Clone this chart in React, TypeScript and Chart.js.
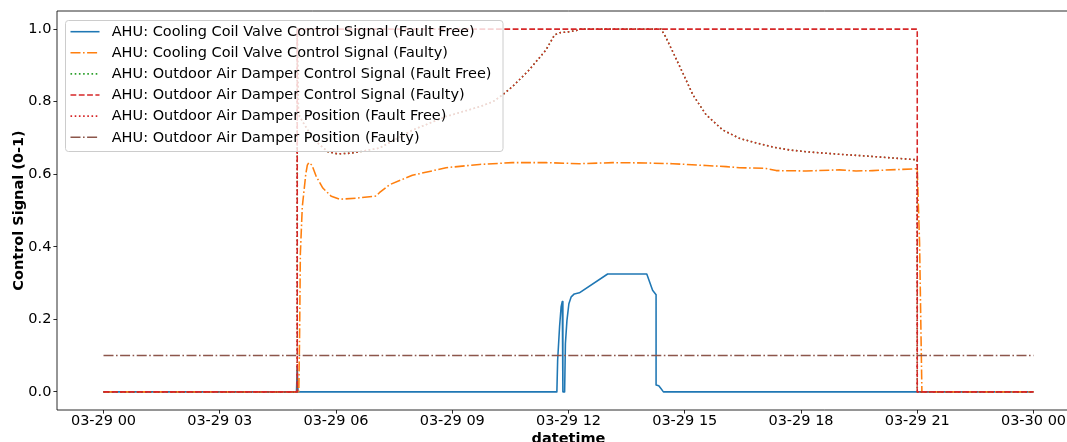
import { useEffect, useRef } from 'react';
import { Chart, registerables } from 'chart.js';

Chart.register(...registerables);

// ---------- data (hours since 03-29 00:00) ----------
const seriesLabels = [
  'AHU: Cooling Coil Valve Control Signal (Fault Free)',
  'AHU: Cooling Coil Valve Control Signal (Faulty)',
  'AHU: Outdoor Air Damper Control Signal (Fault Free)',
  'AHU: Outdoor Air Damper Control Signal (Faulty)',
  'AHU: Outdoor Air Damper Position (Fault Free)',
  'AHU: Outdoor Air Damper Position (Faulty)',
];

const coolingFaultFreeHours = [0, 4.98, 5.0, 5.02, 11.7, 11.72, 11.77, 11.81, 11.84, 11.855, 11.9, 11.92, 11.96, 12.01, 12.07, 12.15, 12.28, 13.01, 14.02, 14.17, 14.26, 14.26, 14.33, 14.38, 14.45, 24];
const coolingFaultFreeValues = [0, 0, 0.07, 0, 0, 0.088, 0.18, 0.235, 0.249, 0, 0, 0.133, 0.197, 0.243, 0.262, 0.27, 0.273, 0.325, 0.325, 0.28, 0.268, 0.019, 0.017, 0.01, 0, 0];

const coolingFaultyHours = [0, 5.04, 5.06, 5.08, 5.13, 5.22, 5.26, 5.3, 5.38, 5.49, 5.66, 5.88, 6.09, 6.52, 7.04, 7.12, 7.38, 7.97, 8.84, 9.7, 10.55, 11.43, 12.28, 13.14, 14.0, 14.69, 15.55, 16.07, 16.41, 17.1, 17.36, 18.13, 18.99, 19.42, 19.85, 20.97, 21.0, 21.06, 21.12, 24];
const coolingFaultyValues = [0, 0, 0.15, 0.38, 0.51, 0.6, 0.625, 0.632, 0.625, 0.594, 0.562, 0.539, 0.531, 0.534, 0.54, 0.549, 0.571, 0.597, 0.618, 0.627, 0.632, 0.632, 0.629, 0.632, 0.631, 0.629, 0.624, 0.621, 0.618, 0.616, 0.61, 0.609, 0.612, 0.609, 0.61, 0.615, 0.615, 0.41, 0, 0];

const damperSignalFaultFreeHours = [0, 5.0, 5.0, 5.03, 5.06, 5.27, 5.53, 5.79, 6.05, 6.39, 7.12, 7.98, 8.84, 9.7, 10.05, 10.3, 10.56, 10.99, 11.42, 11.64, 11.77, 12.03, 12.2, 12.28, 14.39, 14.5, 14.69, 14.95, 15.21, 15.55, 15.98, 16.41, 16.85, 17.27, 17.7, 18.13, 18.99, 19.85, 20.97, 21.0, 21.0, 24];
const damperSignalFaultFreeValues = [0, 0, 1.0, 0.78, 0.759, 0.722, 0.686, 0.662, 0.656, 0.658, 0.672, 0.722, 0.759, 0.786, 0.8, 0.819, 0.842, 0.888, 0.943, 0.984, 0.99, 0.993, 0.996, 1.0, 1.0, 0.98, 0.938, 0.879, 0.819, 0.764, 0.722, 0.699, 0.686, 0.675, 0.667, 0.662, 0.655, 0.649, 0.64, 0.64, 0, 0];

const damperSignalFaultyHours = [0, 5.0, 5.0, 21.0, 21.0, 24];
const damperSignalFaultyValues = [0, 0, 1, 1, 0, 0];

const damperPositionFaultFreeHours = [0, 5.0, 5.0, 5.03, 5.06, 5.27, 5.53, 5.79, 6.05, 6.39, 7.12, 7.98, 8.84, 9.7, 10.05, 10.3, 10.56, 10.99, 11.42, 11.64, 11.77, 12.03, 12.2, 12.28, 14.39, 14.5, 14.69, 14.95, 15.21, 15.55, 15.98, 16.41, 16.85, 17.27, 17.7, 18.13, 18.99, 19.85, 20.97, 21.0, 21.0, 24];
const damperPositionFaultFreeValues = [0, 0, 1.0, 0.78, 0.759, 0.722, 0.686, 0.662, 0.656, 0.658, 0.672, 0.722, 0.759, 0.786, 0.8, 0.819, 0.842, 0.888, 0.943, 0.984, 0.99, 0.993, 0.996, 1.0, 1.0, 0.98, 0.938, 0.879, 0.819, 0.764, 0.722, 0.699, 0.686, 0.675, 0.667, 0.662, 0.655, 0.649, 0.64, 0.64, 0, 0];

const damperPositionFaultyHours = [0, 24];
const damperPositionFaultyValues = [0.1, 0.1];

const xTickHours = [0, 3, 6, 9, 12, 15, 18, 21, 24];
const xTickLabels = ['03-29 00', '03-29 03', '03-29 06', '03-29 09', '03-29 12', '03-29 15', '03-29 18', '03-29 21', '03-30 00'];
const yTickValues = [0, 0.2, 0.4, 0.6, 0.8, 1.0];
const yTickLabels = ['0.0', '0.2', '0.4', '0.6', '0.8', '1.0'];

// ---------- styles ----------
const FONT = '"DejaVu Sans", "Liberation Sans", sans-serif';
const LW = 1.56;
const DASHED = [5.8, 2.5];
const DASHDOT = [10, 2.5, 1.6, 2.5];
const DOTTED = [1.6, 2.6];

const zip = (xs: number[], ys: number[]) => xs.map((x, i) => ({ x, y: ys[i] }));

const spinePlugin = {
  id: 'mplSpines',
  afterDatasetsDraw(chart: any) {
    const { ctx, chartArea: a } = chart;
    ctx.save();
    ctx.strokeStyle = '#000';
    ctx.lineWidth = 0.83;
    ctx.setLineDash([]);
    ctx.beginPath();
    ctx.moveTo(a.left, a.bottom);
    ctx.lineTo(a.left, a.top);
    ctx.lineTo(a.right, a.top);
    ctx.moveTo(a.left, a.bottom);
    ctx.lineTo(a.right, a.bottom);
    ctx.stroke();
    ctx.restore();
  },
};

const legendPlugin = {
  id: 'mplLegend',
  afterDraw(chart: any) {
    const ctx = chart.ctx;
    ctx.save();
    ctx.beginPath();
    (ctx as any).roundRect(65.5, 20.5, 437.5, 131, 3);
    ctx.fillStyle = 'rgba(255,255,255,0.8)';
    ctx.fill();
    ctx.strokeStyle = '#cccccc';
    ctx.lineWidth = 1;
    ctx.setLineDash([]);
    ctx.stroke();
    chart.data.datasets.forEach((ds: any, i: number) => {
      const y = 31.7 + i * 21.1;
      ctx.beginPath();
      ctx.setLineDash(ds.borderDash || []);
      ctx.lineCap = 'butt';
      ctx.strokeStyle = ds.borderColor;
      ctx.lineWidth = ds.borderWidth;
      ctx.moveTo(70.5, y);
      ctx.lineTo(99.5, y);
      ctx.stroke();
      ctx.setLineDash([]);
      ctx.fillStyle = '#000';
      ctx.font = `14.5px ${FONT}`;
      ctx.textAlign = 'left';
      ctx.textBaseline = 'middle';
      ctx.fillText(ds.label, 111.7, y + 0.6);
    });
    ctx.restore();
  },
};

export default function App() {
  const ref = useRef<HTMLCanvasElement>(null);

  useEffect(() => {
    if (!ref.current) return;
    const mk = (i: number, xs: number[], ys: number[], color: string, dash: number[]) => ({
      label: seriesLabels[i],
      data: zip(xs, ys),
      borderColor: color,
      backgroundColor: color,
      borderWidth: LW,
      borderDash: dash,
      borderCapStyle: 'butt' as const,
      borderJoinStyle: 'round' as const,
      pointRadius: 0,
      pointHoverRadius: 0,
      tension: 0,
      fill: false,
      order: 6 - i,
    });
    const tickFont = { family: FONT, size: 14.5 };
    const chart = new Chart(ref.current, {
      type: 'line',
      data: {
        datasets: [
          mk(0, coolingFaultFreeHours, coolingFaultFreeValues, '#1f77b4', []),
          mk(1, coolingFaultyHours, coolingFaultyValues, '#ff7f0e', DASHDOT),
          mk(2, damperSignalFaultFreeHours, damperSignalFaultFreeValues, '#2ca02c', DOTTED),
          mk(3, damperSignalFaultyHours, damperSignalFaultyValues, '#d62728', DASHED),
          mk(4, damperPositionFaultFreeHours, damperPositionFaultFreeValues, '#d62728', DOTTED),
          mk(5, damperPositionFaultyHours, damperPositionFaultyValues, '#8c564b', DASHDOT),
        ],
      },
      options: {
        animation: false,
        responsive: false,
        devicePixelRatio: 1,
        events: [],
        layout: { padding: { left: 0, top: 11, right: 0, bottom: 0 } },
        plugins: { legend: { display: false }, tooltip: { enabled: false } },
        scales: {
          x: {
            type: 'linear',
            min: -1.2,
            max: 25.2,
            afterBuildTicks: (s: any) => {
              s.ticks = xTickHours.map((v) => ({ value: v }));
            },
            afterFit: (s: any) => {
              s.height = 32;
            },
            ticks: {
              autoSkip: false,
              maxRotation: 0,
              minRotation: 0,
              padding: 0,
              color: '#000',
              font: { ...tickFont, lineHeight: 1.0 },
              callback: (v: any) => xTickLabels[xTickHours.indexOf(Number(v))],
            },
            grid: {
              display: true,
              drawOnChartArea: false,
              drawTicks: true,
              tickLength: 3.6,
              lineWidth: 0.83,
              tickWidth: 0.83,
              tickColor: '#000',
              color: '#000',
            },
            border: { display: false },
            title: {
              display: true,
              text: 'datetime',
              color: '#000',
              font: { family: FONT, size: 14.5, weight: 'bold' },
              padding: { top: 0, bottom: -6.2 },
            },
          },
          y: {
            type: 'linear',
            min: -0.05,
            max: 1.05,
            afterBuildTicks: (s: any) => {
              s.ticks = yTickValues.map((v) => ({ value: v }));
            },
            afterFit: (s: any) => {
              s.width = 57;
            },
            ticks: {
              padding: 2,
              color: '#000',
              font: tickFont,
              callback: (v: any) => yTickLabels[yTickValues.findIndex((t) => Math.abs(t - Number(v)) < 1e-9)],
            },
            grid: {
              display: true,
              drawOnChartArea: false,
              drawTicks: true,
              tickLength: 3.6,
              lineWidth: 0.83,
              tickWidth: 0.83,
              tickColor: '#000',
              color: '#000',
            },
            border: { display: false },
            title: {
              display: true,
              text: 'Control Signal (0-1)',
              color: '#000',
              font: { family: FONT, size: 14.5, weight: 'bold' },
              padding: { top: 10.5, bottom: 0 },
            },
          },
        },
      } as any,
      plugins: [spinePlugin, legendPlugin],
    });
    return () => chart.destroy();
  }, []);

  return (
    <div style={{ position: 'fixed', left: 0, top: 0, width: 1067, height: 442, overflow: 'hidden', background: '#fff' }}>
      <canvas ref={ref} width={1080} height={442} style={{ display: 'block', width: 1080, height: 442 }} />
    </div>
  );
}
